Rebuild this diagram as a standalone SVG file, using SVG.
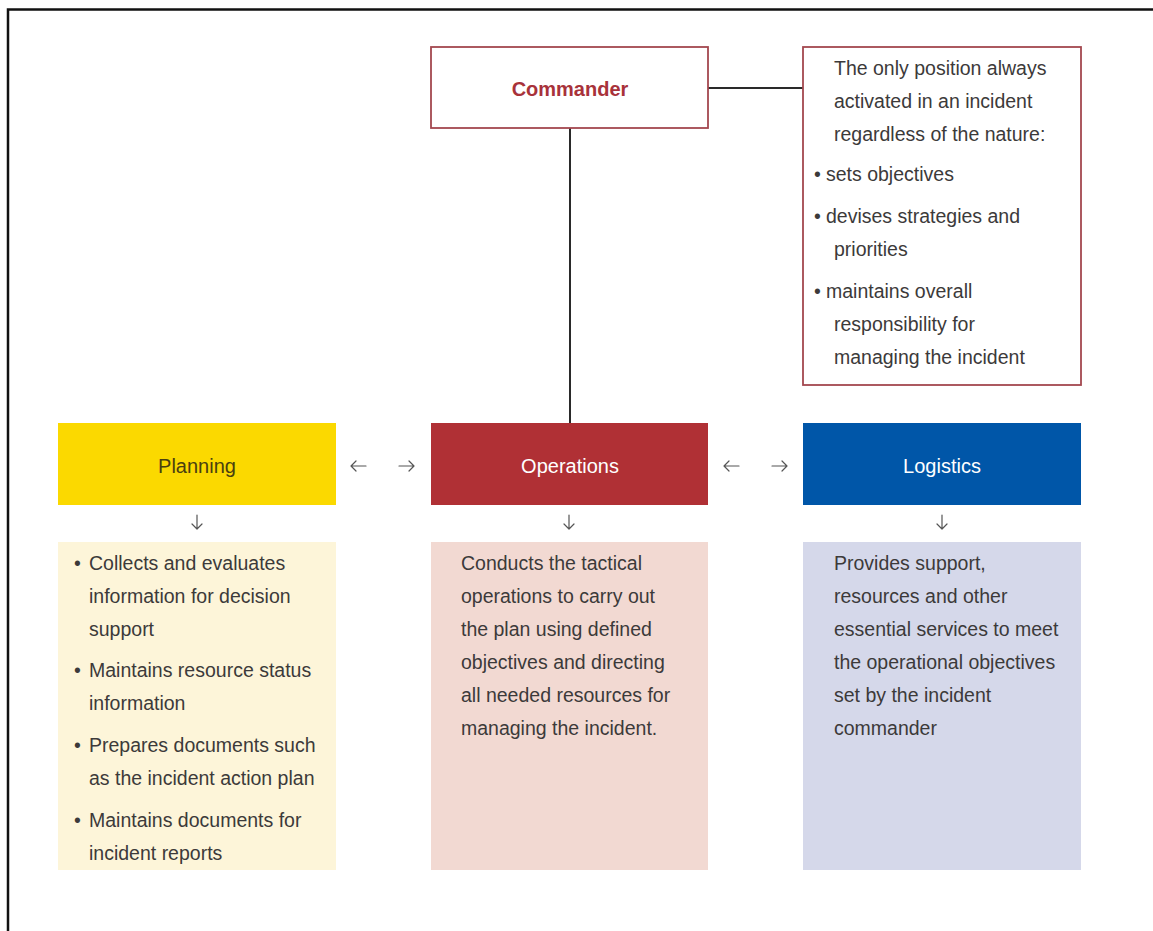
<svg xmlns="http://www.w3.org/2000/svg" width="1153" height="931" viewBox="0 0 1153 931">
  <style>
    .body { font-family: "Liberation Sans", Arial, sans-serif; font-size: 19.5px; fill: #3c3a3a; }
    .head { font-family: "Liberation Sans", Arial, sans-serif; font-size: 20px; text-anchor: middle; }
    .link { stroke: #2a2a2a; stroke-width: 2; fill: none; }
    .arrow { stroke: #555; stroke-width: 1.2; fill: none; stroke-linecap: round; stroke-linejoin: round; }
  </style>

  <rect width="1153" height="931" fill="#ffffff"/>
  <!-- frame -->
  <path d="M8 931 V9.5 H1153" fill="none" stroke="#111" stroke-width="2.5"/>

  <!-- connectors -->
  <g id="connectors">
    <line class="link" x1="708" y1="88" x2="803" y2="88"/>
    <line class="link" x1="570" y1="128" x2="570" y2="423"/>
    <!-- side arrows -->
    <path class="arrow" d="M351 466 H366 M356 461 L351 466 L356 471"/>
    <path class="arrow" d="M399 466 H414 M409 461 L414 466 L409 471"/>
    <path class="arrow" d="M724 466 H739 M729 461 L724 466 L729 471"/>
    <path class="arrow" d="M772 466 H787 M782 461 L787 466 L782 471"/>
    <!-- down arrows -->
    <path class="arrow" d="M197 515 V529 M192 524 L197 529 L202 524"/>
    <path class="arrow" d="M569 515 V529 M564 524 L569 529 L574 524"/>
    <path class="arrow" d="M942 515 V529 M937 524 L942 529 L947 524"/>
  </g>

  <g id="commander">
    <rect x="431" y="47" width="277" height="81" fill="#fff" stroke="#a3484f" stroke-width="1.8"/>
    <text class="head" x="570" y="96" font-weight="bold" font-size="21" fill="#a8323a">Commander</text>
  </g>

  <g id="commander-note">
    <rect x="803" y="47" width="278" height="338" fill="#fff" stroke="#a3484f" stroke-width="1.8"/>
    <text class="body">
      <tspan x="834" y="75">The only position always</tspan>
      <tspan x="834" y="108">activated in an incident</tspan>
      <tspan x="834" y="141">regardless of the nature:</tspan>
      <tspan x="814" y="181">•</tspan><tspan x="826" y="181">sets objectives</tspan>
      <tspan x="814" y="223">•</tspan><tspan x="826" y="223">devises strategies and</tspan>
      <tspan x="834" y="256">priorities</tspan>
      <tspan x="814" y="298">•</tspan><tspan x="826" y="298">maintains overall</tspan>
      <tspan x="834" y="331">responsibility for</tspan>
      <tspan x="834" y="364">managing the incident</tspan>
    </text>
  </g>

  <g id="planning">
    <rect x="58" y="423" width="278" height="82" fill="#fbd900"/>
    <text class="head" x="197" y="473" fill="#4a3f10">Planning</text>
  </g>

  <g id="operations">
    <rect x="431" y="423" width="277" height="82" fill="#b03035"/>
    <text class="head" x="570" y="473" fill="#ffffff">Operations</text>
  </g>

  <g id="logistics">
    <rect x="803" y="423" width="278" height="82" fill="#0056a8"/>
    <text class="head" x="942" y="473" fill="#ffffff">Logistics</text>
  </g>

  <g id="planning-duties">
    <rect x="58" y="542" width="278" height="328" fill="#fdf5d9"/>
    <text class="body">
      <tspan x="74" y="570">•</tspan><tspan x="89" y="570">Collects and evaluates</tspan>
      <tspan x="89" y="603">information for decision</tspan>
      <tspan x="89" y="636">support</tspan>
      <tspan x="74" y="677">•</tspan><tspan x="89" y="677">Maintains resource status</tspan>
      <tspan x="89" y="710">information</tspan>
      <tspan x="74" y="752">•</tspan><tspan x="89" y="752">Prepares documents such</tspan>
      <tspan x="89" y="785">as the incident action plan</tspan>
      <tspan x="74" y="827">•</tspan><tspan x="89" y="827">Maintains documents for</tspan>
      <tspan x="89" y="860">incident reports</tspan>
    </text>
  </g>

  <g id="operations-duties">
    <rect x="431" y="542" width="277" height="328" fill="#f2d9d2"/>
    <text class="body">
      <tspan x="461" y="570">Conducts the tactical</tspan>
      <tspan x="461" y="603">operations to carry out</tspan>
      <tspan x="461" y="636">the plan using defined</tspan>
      <tspan x="461" y="669">objectives and directing</tspan>
      <tspan x="461" y="702">all needed resources for</tspan>
      <tspan x="461" y="735">managing the incident.</tspan>
    </text>
  </g>

  <g id="logistics-duties">
    <rect x="803" y="542" width="278" height="328" fill="#d5d8ea"/>
    <text class="body">
      <tspan x="834" y="570">Provides support,</tspan>
      <tspan x="834" y="603">resources and other</tspan>
      <tspan x="834" y="636">essential services to meet</tspan>
      <tspan x="834" y="669">the operational objectives</tspan>
      <tspan x="834" y="702">set by the incident</tspan>
      <tspan x="834" y="735">commander</tspan>
    </text>
  </g>
</svg>
